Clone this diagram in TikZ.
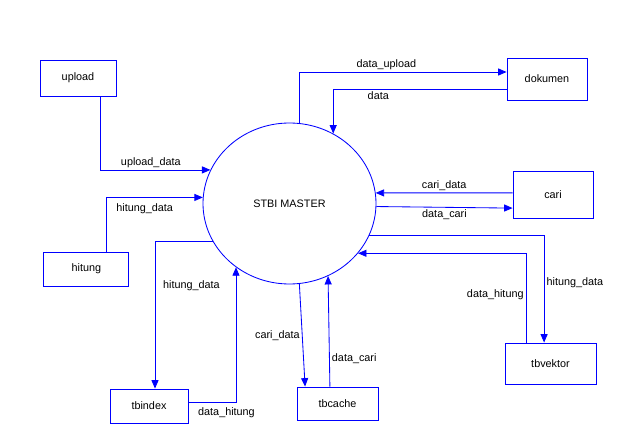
\documentclass[tikz,border=0pt]{standalone}
\usepackage{fontspec}
\setmainfont{Liberation Sans}
\usetikzlibrary{arrows.meta,shapes.geometric}

\begin{document}
\begin{tikzpicture}[
  entity/.style={draw=blue,line width=0.6pt,inner sep=0pt,font=\fontsize{7.7}{9}\selectfont},
  flow/.style={blue,line width=0.6pt,-{Triangle[length=6pt,width=5pt]}},
  lbl/.style={black,font=\fontsize{7.7}{9}\selectfont,inner sep=1.5pt}
]
  \useasboundingbox (0.0,0.0) rectangle (15.575,11.1) ;
  \node[entity,minimum width=1.9cm,minimum height=0.9cm] (upload) at (1.95,9.15) {upload} ;
  \node[entity,minimum width=2.125cm,minimum height=0.85cm] (hitung) at (2.16,4.375) {hitung} ;
  \node[entity,minimum width=2.0cm,minimum height=1.05cm] (dokumen) at (13.675,9.125) {dokumen} ;
  \node[entity,minimum width=2.0cm,minimum height=1.175cm] (cari) at (13.825,6.2375) {cari} ;
  \node[entity,minimum width=1.95cm,minimum height=0.85cm] (tbindex) at (3.725,0.95) {tbindex} ;
  \node[entity,minimum width=2.025cm,minimum height=0.825cm] (tbcache) at (8.4375,1.0125) {tbcache} ;
  \node[entity,minimum width=2.275cm,minimum height=1.025cm] (tbvektor) at (13.7625,2.0125) {tbvektor} ;
  \node[entity,ellipse,minimum width=4.325cm,minimum height=4.025cm] (master) at (7.2375,6.0125) {STBI MASTER} ;

  \draw[flow] ([xshift=0.55cm]upload.south) |- (master.157) node[lbl,above,pos=0.73] (l1) {upload\_data} ;
  \draw[flow] ([xshift=0.49cm]hitung.north) |- (master.176) node[lbl,below=2.5pt,pos=0.7] (l2) {hitung\_data} ;
  \draw[flow] (master.83) |- ([yshift=0.175cm]dokumen.west) node[lbl,above,pos=0.71] (l3) {data\_upload} ;
  \draw[flow] ([yshift=-0.25cm]dokumen.west) -| (master.58) node[lbl,below,pos=0.37] (l4) {data} ;
  \draw[flow] ([yshift=0.04cm]cari.west) -- (master.7) node[lbl,above,midway] (l5) {cari\_data} ;
  \draw[flow] (master.-2) -- ([yshift=-0.34cm]cari.west) node[lbl,below,midway] (l6) {data\_cari} ;

  \draw[flow] (master.-22) -| ([xshift=-0.16cm]tbvektor.north) node[lbl,right,pos=0.72] (l7) {hitung\_data} ;
  \draw[flow] ([xshift=-0.61cm]tbvektor.north) |- (master.-36) node[lbl,left,pos=0.27] (l8) {data\_hitung} ;
  \draw[flow] (master.206) -| ([xshift=0.15cm]tbindex.north) node[lbl,right=4pt,pos=0.65] (l9) {hitung\_data} ;
  \draw[flow] ([yshift=0.1cm]tbindex.east) -| (master.230) node[lbl,below=2pt,pos=0.4] (l10) {data\_hitung} ;
  \draw[flow] (master.-83) -- ([xshift=-0.81cm]tbcache.north) node[lbl,left,midway] (l11) {cari\_data} ;
  \draw[flow] ([xshift=-0.19cm]tbcache.north) -- (master.-62) node[lbl,right,pos=0.25] (l12) {data\_cari} ;
\end{tikzpicture}
\end{document}
